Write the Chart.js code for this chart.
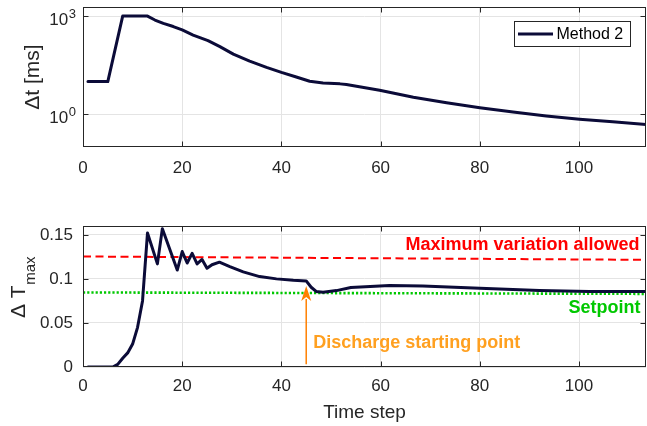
<!DOCTYPE html>
<html>
<head>
<meta charset="utf-8">
<script src="https://cdn.jsdelivr.net/npm/chart.js@4.4.1/dist/chart.umd.min.js"></script>
<style>
  html, body { margin: 0; padding: 0; background: #ffffff; }
  #wrap { position: relative; width: 647px; height: 426px; overflow: hidden; }
  canvas { position: absolute; left: 0; }
  #dtChart { top: 0; }
  #tempChart { top: 200px; }
</style>
</head>
<body>
<div id="wrap">
  <canvas id="dtChart" width="647" height="200"></canvas>
  <canvas id="tempChart" width="647" height="226"></canvas>
</div>
<script>
// ---- time step size (top panel, log scale) ----
const dtSteps = [1, 5, 8, 13, 14.5, 16.2, 18.2, 20, 22.2, 25.2, 27.6, 30.3, 33.6, 37, 40, 43, 45.7, 48.4, 51.8, 53.1, 59.8, 66.6, 73.3, 80, 86.7, 93.4, 100.1, 106.8, 113.5];
const dtValuesMs = [10, 10, 1000, 1000, 760, 600, 480, 380, 263, 178, 117, 69, 42, 27, 19, 13.8, 10.2, 9.1, 8.5, 8.1, 5.4, 3.3, 2.24, 1.58, 1.17, 0.89, 0.71, 0.59, 0.49];

// ---- maximum temperature difference (bottom panel) ----
const dTSteps = [1, 6, 7, 8, 9, 10, 11, 12, 13, 15, 16, 19, 20, 21, 22, 23, 24, 25, 26, 27.5, 29.6, 32.3, 35.6, 39, 42.4, 45, 46, 47, 48.4, 51.1, 54, 61.8, 68.5, 80, 92, 102, 113.5];
const dTValues = [0, 0, 0.003, 0.01, 0.016, 0.026, 0.045, 0.075, 0.152, 0.117, 0.157, 0.110, 0.131, 0.118, 0.129, 0.117, 0.122, 0.112, 0.116, 0.119, 0.114, 0.108, 0.1026, 0.100, 0.0985, 0.0977, 0.0905, 0.0857, 0.0848, 0.0867, 0.0903, 0.0924, 0.092, 0.0894, 0.0867, 0.0856, 0.0856];

// reference lines (start / end of the time range)
const refSteps = [0, 113.5];
const maxVariation = [0.1254, 0.1216];
const setpoint = [0.0846, 0.0830];

// discharge marker
const dischargeStep = 45;
const dischargeArrow = [0.003, 0.092];

// axes
const xTicks = [0, 20, 40, 60, 80, 100];
const xRange = [0, 113.5];
const dtTicks = [1, 1000];
const dtRange = [0.1, 1900];
const dTTicks = [0, 0.05, 0.1, 0.15];
const dTTickLabels = ['0', '0.05', '0.1', '0.15'];
const dTRange = [0, 0.16];

const FONT = '"Liberation Sans", Arial, Helvetica, sans-serif';
const AXIS_COLOR = '#262626';
const GRID_COLOR = '#e4e4e4';
const LINE_COLOR = '#0b0b38';

function toPoints(xs, ys) { return xs.map((x, i) => ({ x: x, y: ys[i] })); }

// frame with inward tick marks on all four sides
const framePlugin = {
  id: 'frame',
  afterDraw(chart) {
    const { ctx, chartArea: a, scales } = chart;
    ctx.save();
    ctx.strokeStyle = AXIS_COLOR;
    ctx.lineWidth = 1;
    const L = Math.round(a.left) + 0.5, R = Math.round(a.right) - 0.5;
    const T = Math.round(a.top) + 0.5, B = Math.round(a.bottom) - 0.5;
    ctx.strokeRect(L, T, R - L, B - T);
    const tl = 5;
    ctx.beginPath();
    scales.x.ticks.forEach(t => {
      const px = Math.round(scales.x.getPixelForValue(t.value)) + 0.5;
      if (px <= L + 1 || px >= R - 1) return;
      ctx.moveTo(px, B); ctx.lineTo(px, B - tl);
      ctx.moveTo(px, T); ctx.lineTo(px, T + tl);
    });
    scales.y.ticks.forEach(t => {
      const py = Math.round(scales.y.getPixelForValue(t.value)) + 0.5;
      if (py <= T + 1 || py >= B - 1) return;
      ctx.moveTo(L, py); ctx.lineTo(L + tl, py);
      ctx.moveTo(R, py); ctx.lineTo(R - tl, py);
    });
    ctx.stroke();
    ctx.restore();
  }
};

const xScaleBase = (padding, height) => ({
  type: 'linear',
  min: xRange[0],
  max: xRange[1],
  afterBuildTicks: s => { s.ticks = xTicks.map(v => ({ value: v })); },
  afterFit: s => { s.height = height; },
  ticks: { color: AXIS_COLOR, font: { family: FONT, size: 17 }, padding: padding, maxRotation: 0, autoSkip: false },
  grid: { color: GRID_COLOR, lineWidth: 1, drawTicks: false },
  border: { display: false }
});

// powers-of-ten labels for the log axis
const powerLabelsPlugin = {
  id: 'powerLabels',
  afterDraw(chart) {
    const { ctx, scales } = chart;
    ctx.save();
    ctx.fillStyle = AXIS_COLOR;
    ctx.textBaseline = 'alphabetic';
    scales.y.ticks.forEach(t => {
      const py = scales.y.getPixelForValue(t.value);
      const exp = String(Math.round(Math.log10(t.value)));
      ctx.font = '13px ' + FONT;
      const ew = ctx.measureText(exp).width;
      const right = 76;
      ctx.textAlign = 'right';
      ctx.fillText(exp, right, py + 2);
      ctx.font = '17px ' + FONT;
      ctx.fillText('10', right - ew - 0.5, py + 9);
    });
    ctx.restore();
  }
};

const legendPlugin = {
  id: 'boxLegend',
  afterDraw(chart) {
    const { ctx } = chart;
    const ds = chart.data.datasets[0];
    ctx.save();
    ctx.fillStyle = '#ffffff';
    ctx.fillRect(514, 21, 116, 26);
    ctx.strokeStyle = AXIS_COLOR;
    ctx.lineWidth = 1;
    ctx.strokeRect(514.5, 21.5, 116, 25);
    ctx.strokeStyle = ds.borderColor;
    ctx.lineWidth = ds.borderWidth;
    ctx.beginPath();
    ctx.moveTo(518, 34); ctx.lineTo(553, 34);
    ctx.stroke();
    ctx.fillStyle = '#000000';
    ctx.font = '16px ' + FONT;
    ctx.textAlign = 'left';
    ctx.textBaseline = 'middle';
    ctx.fillText(ds.label, 556.5, 34.5);
    ctx.restore();
  }
};

new Chart(document.getElementById('dtChart'), {
  type: 'line',
  data: {
    datasets: [{
      label: 'Method 2',
      data: toPoints(dtSteps, dtValuesMs),
      borderColor: LINE_COLOR,
      borderWidth: 3,
      pointRadius: 0,
      tension: 0,
      borderJoinStyle: 'round',
      borderCapStyle: 'round'
    }]
  },
  options: {
    responsive: false,
    animation: false,
    devicePixelRatio: 1,
    layout: { padding: { top: 7, right: 1, left: 0, bottom: 0 } },
    plugins: { legend: { display: false }, tooltip: { enabled: false } },
    scales: {
      x: xScaleBase(11, 53),
      y: {
        type: 'logarithmic',
        min: dtRange[0],
        max: dtRange[1],
        afterBuildTicks: s => { s.ticks = dtTicks.map(v => ({ value: v })); },
        afterFit: s => { s.width = 83; },
        ticks: { display: false },
        grid: { color: GRID_COLOR, lineWidth: 1, drawTicks: false },
        border: { display: false },
        title: { display: true, text: 'Δt [ms]', color: AXIS_COLOR, font: { family: FONT, size: 21 }, padding: { top: 21, bottom: 0 } }
      }
    }
  },
  plugins: [framePlugin, powerLabelsPlugin, legendPlugin]
});

// texts, arrow and subscripted axis label of the lower panel
const annotationPlugin = {
  id: 'annotations',
  afterDraw(chart) {
    const { ctx, scales: { x, y }, chartArea: a } = chart;
    ctx.save();
    ctx.font = 'bold 18px ' + FONT;
    ctx.textBaseline = 'middle';
    ctx.fillStyle = '#ff0000';
    ctx.textAlign = 'right';
    ctx.fillText('Maximum variation allowed', x.getPixelForValue(112.2), y.getPixelForValue(0.1386));
    ctx.fillStyle = '#00c800';
    ctx.fillText('Setpoint', x.getPixelForValue(112.4), y.getPixelForValue(0.067));
    ctx.fillStyle = '#ffa020';
    ctx.textAlign = 'left';
    ctx.fillText('Discharge starting point', x.getPixelForValue(46.4), y.getPixelForValue(0.0267));

    // arrow
    const ax = x.getPixelForValue(dischargeStep);
    const y0 = y.getPixelForValue(dischargeArrow[0]);
    const y1 = y.getPixelForValue(dischargeArrow[1]);
    const headLen = 15, headHalf = 5;
    ctx.strokeStyle = '#ff8000';
    ctx.fillStyle = '#ff8000';
    ctx.lineWidth = 1.5;
    ctx.beginPath();
    ctx.moveTo(ax, y0); ctx.lineTo(ax, y1 + headLen - 2);
    ctx.stroke();
    ctx.beginPath();
    ctx.moveTo(ax, y1);
    ctx.lineTo(ax - headHalf, y1 + headLen);
    ctx.lineTo(ax, y1 + headLen - 4);
    ctx.lineTo(ax + headHalf, y1 + headLen);
    ctx.closePath();
    ctx.fill();

    // y-axis label with subscript
    const cy = (a.top + a.bottom) / 2 - 9;
    ctx.fillStyle = AXIS_COLOR;
    ctx.translate(25, cy);
    ctx.rotate(-Math.PI / 2);
    ctx.textBaseline = 'alphabetic';
    ctx.textAlign = 'left';
    ctx.font = '21px ' + FONT;
    const main = 'Δ T';
    const mw = ctx.measureText(main).width;
    ctx.font = '15px ' + FONT;
    const sub = 'max';
    const sw = ctx.measureText(sub).width;
    const start = -(mw + sw) / 2;
    ctx.font = '21px ' + FONT;
    ctx.fillText(main, start, 0);
    ctx.font = '15px ' + FONT;
    ctx.fillText(sub, start + mw + 0.5, 10);
    ctx.restore();
  }
};

new Chart(document.getElementById('tempChart'), {
  type: 'line',
  data: {
    datasets: [
      {
        label: 'Method 2',
        data: toPoints(dTSteps, dTValues),
        borderColor: LINE_COLOR,
        borderWidth: 3,
        pointRadius: 0,
        tension: 0,
        borderJoinStyle: 'round',
        borderCapStyle: 'round'
      },
      {
        label: 'Maximum variation allowed',
        data: toPoints(refSteps, maxVariation),
        borderColor: '#ff0000',
        borderWidth: 2,
        borderDash: [8, 4.5],
        pointRadius: 0,
        tension: 0
      },
      {
        label: 'Setpoint',
        data: toPoints(refSteps, setpoint),
        borderColor: '#00c800',
        borderWidth: 2.6,
        borderDash: [2.2, 2.0],
        pointRadius: 0,
        tension: 0
      }
    ]
  },
  options: {
    responsive: false,
    animation: false,
    devicePixelRatio: 1,
    layout: { padding: { top: 26, right: 1, left: 0, bottom: 0 } },
    plugins: { legend: { display: false }, tooltip: { enabled: false } },
    scales: {
      x: Object.assign(xScaleBase(9, 59), {
        title: { display: true, text: 'Time step', color: AXIS_COLOR, font: { family: FONT, size: 19 }, padding: { top: 0, bottom: 2 } }
      }),
      y: {
        type: 'linear',
        min: dTRange[0],
        max: dTRange[1],
        afterBuildTicks: s => { s.ticks = dTTicks.map(v => ({ value: v })); },
        afterFit: s => { s.width = 83; },
        ticks: {
          color: AXIS_COLOR,
          font: { family: FONT, size: 17 },
          padding: 10,
          callback: (v, i) => dTTickLabels[i]
        },
        grid: { color: GRID_COLOR, lineWidth: 1, drawTicks: false },
        border: { display: false }
      }
    }
  },
  plugins: [framePlugin, annotationPlugin]
});
</script>
</body>
</html>
